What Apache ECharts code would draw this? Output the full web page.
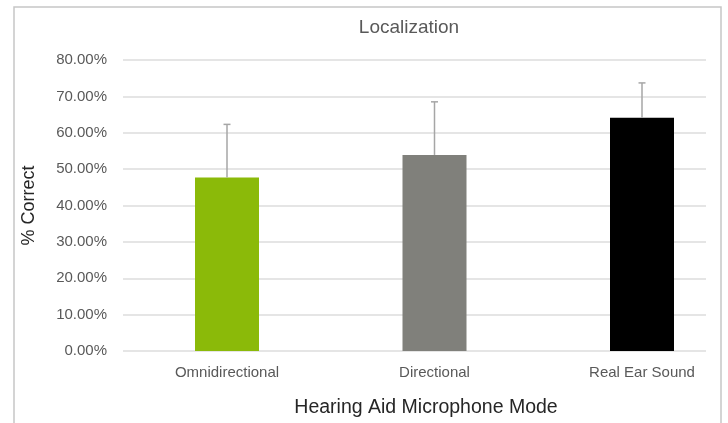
<!DOCTYPE html>
<html>
<head>
<meta charset="utf-8">
<title>Localization</title>
<script src="https://cdn.jsdelivr.net/npm/echarts@6/dist/echarts.min.js"></script>
<style>
  html, body { margin: 0; padding: 0; background: #fff; }
  #main { width: 728px; height: 423px; }
</style>
</head>
<body>
<div id="main"></div>
<script>
const MODES = ['Omnidirectional', 'Directional', 'Real Ear Sound']
const PERCENT_CORRECT = [47.7, 53.9, 64.1]
const STD_DEV = [14.6, 14.6, 9.6]
const BAR_COLORS = ['#8bba09', '#80807b', '#000000']
const Y_TICKS = { min: 0, max: 80, interval: 10 }

const LABEL_FONT = 'Liberation Sans, Arial, sans-serif'

let chart = echarts.init(document.getElementById('main'))

// error bar: upper whisker only, from bar top to mean + sd
let renderErrorBar = (params, api) => {
  let x = api.value(0)
  let base = api.coord([x, api.value(1)])
  let top = api.coord([x, api.value(1) + api.value(2)])
  let style = { stroke: '#a6a6a6', lineWidth: 1.5 }
  return {
    type: 'group',
    children: [
      { type: 'line', shape: { x1: base[0], y1: base[1], x2: top[0], y2: top[1] }, style: style },
      { type: 'line', shape: { x1: top[0] - 3.5, y1: top[1], x2: top[0] + 3.5, y2: top[1] }, style: style }
    ]
  }
}

let option = {
  backgroundColor: '#fff',
  animation: false,
  title: [
    {
      text: 'Localization',
      left: 404,
      top: 13,
      textAlign: 'center',
      textStyle: { fontFamily: LABEL_FONT, fontSize: 19, fontWeight: 'normal', color: '#595959' }
    },
    {
      text: 'Hearing Aid Microphone Mode',
      left: 421,
      top: 393,
      textAlign: 'center',
      textStyle: { fontFamily: LABEL_FONT, fontSize: 19.5, fontWeight: 'normal', color: '#262626' }
    }
  ],
  graphic: [
    {
      type: 'rect',
      shape: { x: 14, y: 7, width: 707, height: 440 },
      style: { fill: 'none', stroke: '#c6c6c6', lineWidth: 1.5 },
      silent: true
    }
  ],
  grid: [
    // gridlines + y labels
    { left: 123, top: 60, width: 583, height: 291 },
    // bars: category points run from first to last bar centre
    { left: 227, top: 60, width: 415, height: 291 }
  ],
  xAxis: [
    { gridIndex: 0, type: 'category', data: MODES, show: false },
    {
      gridIndex: 1,
      type: 'category',
      data: MODES,
      boundaryGap: false,
      axisLine: { show: false },
      axisTick: { show: false },
      axisLabel: { fontFamily: LABEL_FONT, fontSize: 15, color: '#595959', margin: 14 }
    }
  ],
  yAxis: [
    {
      gridIndex: 0,
      type: 'value',
      min: Y_TICKS.min,
      max: Y_TICKS.max,
      interval: Y_TICKS.interval,
      name: '% Correct',
      nameLocation: 'middle',
      nameGap: 85,
      nameTextStyle: { fontFamily: LABEL_FONT, fontSize: 18, color: '#262626' },
      axisLine: { show: false },
      axisTick: { show: false },
      axisLabel: {
        fontFamily: LABEL_FONT,
        fontSize: 15,
        color: '#595959',
        margin: 16,
        formatter: v => v.toFixed(2) + '%'
      },
      splitLine: { lineStyle: { color: '#dcdcdc', width: 1.5 } }
    },
    { gridIndex: 1, type: 'value', min: Y_TICKS.min, max: Y_TICKS.max, show: false }
  ],
  series: [
    {
      name: 'Localization',
      type: 'bar',
      xAxisIndex: 1,
      yAxisIndex: 1,
      barWidth: 64,
      data: PERCENT_CORRECT.map((v, i) => ({ value: v, itemStyle: { color: BAR_COLORS[i] } }))
    },
    {
      name: 'SD',
      type: 'custom',
      xAxisIndex: 1,
      yAxisIndex: 1,
      z: 5,
      renderItem: renderErrorBar,
      data: PERCENT_CORRECT.map((v, i) => [i, v, STD_DEV[i]])
    }
  ]
}

chart.setOption(option)
</script>
</body>
</html>
